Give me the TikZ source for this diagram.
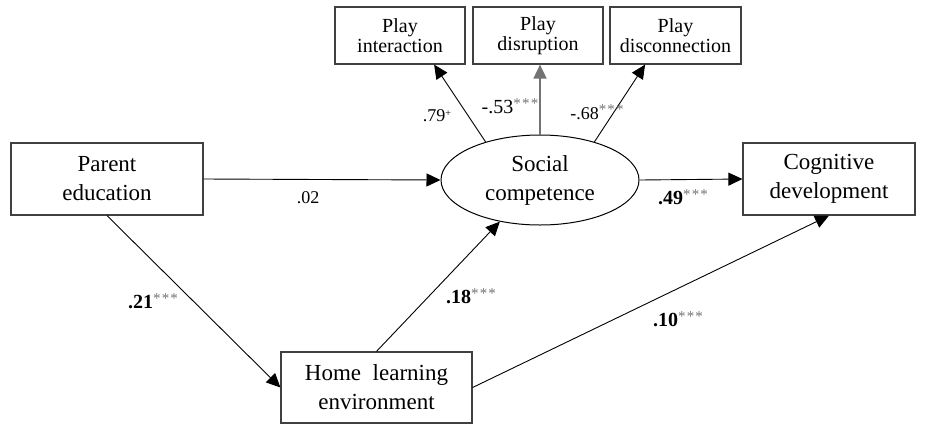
\documentclass[tikz,border=0pt]{standalone}
\usepackage{fontspec}
\setmainfont{Liberation Serif}
\usetikzlibrary{arrows.meta,shapes.geometric,calc}
\tikzset{
  box/.style={draw=black!75, line width=0.6pt, rectangle, inner sep=0pt, align=center,
     font=\fontsize{11.5}{14.5}\selectfont},
  playbox/.style={box, minimum width=65pt, minimum height=28.5pt, font=\fontsize{10}{10}\selectfont},
  arr/.style={line width=0.45pt, -{Triangle[length=7pt,width=6.5pt]}},
  lab/.style={inner sep=0pt, font=\fontsize{9}{10}\selectfont},
  blab/.style={inner sep=0pt, font=\fontsize{10}{12}\selectfont\bfseries},
}
\newcommand{\stars}{\textcolor{black!55}{\raisebox{0.55ex}{\mdseries\fontsize{7.5}{8}\selectfont *\kern0.6pt*\kern0.6pt*}}}
\begin{document}
\begin{tikzpicture}[x=0.5pt,y=-0.5pt]
\useasboundingbox (0,0) rectangle (925,424);
\node[box, minimum width=96pt, minimum height=36pt] (pe) at (107,179) {Parent\\education};
\node[draw=black, line width=0.5pt, ellipse, inner sep=0pt, minimum width=99pt, minimum height=45pt,
      align=center, font=\fontsize{11.5}{14.5}\selectfont] (sc) at (540,180) {Social\\competence};
\node[box, minimum width=86pt, minimum height=36pt] (cd) at (829,179) {Cognitive\\development};
\node[box, minimum width=95.5pt, minimum height=35.5pt] (hle) at (376.5,387.5) {Home\ \ learning\\environment};
\node[playbox] (pi) at (400,35.5) {Play\\interaction};
\node[playbox] (pd) at (538,35.5) {Play\\disruption};
\node[playbox, minimum width=65.5pt] (pc) at (675.5,35.5) {Play\\disconnection};

\coordinate (piend) at ($(pi.south west)!0.76!(pi.south east)$);
\coordinate (pcend) at ($(pc.south west)!0.27!(pc.south east)$);
\draw[arr] (sc.145) -- (piend);
\draw[arr, draw=black!55, line width=0.9pt] (sc.north) -- (sc.north |- pd.south);
\draw[arr] (sc.35) -- (pcend);
\draw[arr] (pe.east) -- (sc.west);
\draw[arr] (sc.east) -- (cd.west);
\draw[arr] (pe.south) -- (hle.west);
\draw[arr] (hle.north) -- (sc.226);
\draw[arr] (hle.east) -- (cd.south);

\node[lab] (l79) at (437,116) {.79\raisebox{0.7ex}{\fontsize{5}{6}\selectfont +}};
\node[lab, font=\fontsize{10}{11}\selectfont] (l53) at (510,106) {-.53\stars};
\node[lab] (l68) at (597,112) {-.68\stars};
\node[lab] (l02) at (308,198) {.02};
\node[blab] (l49) at (683,197) {.49\stars};
\node[blab] (l21) at (153,301) {.21\stars};
\node[blab] (l18) at (471,296) {.18\stars};
\node[blab] (l10) at (678,319) {.10\stars};
\end{tikzpicture}
\end{document}
